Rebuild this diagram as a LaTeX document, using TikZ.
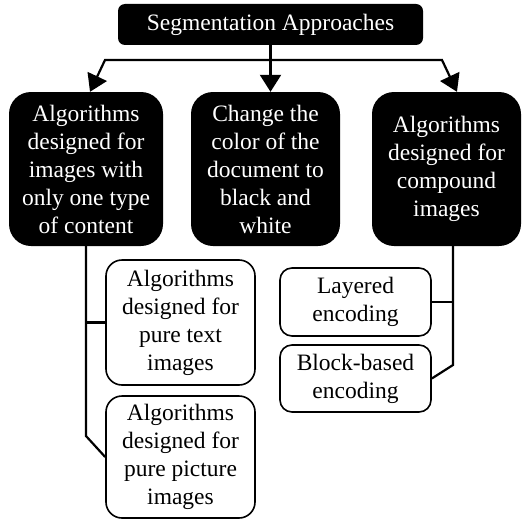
\documentclass[tikz,border=0pt]{standalone}
\usepackage{fontspec}
\setmainfont{LiberationSerif}[Extension=.ttf, UprightFont=*-Regular, BoldFont=*-Bold]
\usetikzlibrary{arrows.meta}

\tikzset{
  darkbox/.style={fill=black, text=white, rounded corners=22pt, align=center, inner sep=0pt},
  lightbox/.style={draw=black, line width=1.6pt, fill=white, rounded corners=16pt, align=center, inner sep=0pt},
  conn/.style={black, line width=2.2pt},
  arrow/.style={conn, -{Triangle[length=17pt,width=21pt]}}
}

\begin{document}
\begin{tikzpicture}[x=1pt, y=-1pt, font=\fontsize{23.5}{28}\selectfont]
  \useasboundingbox (0,0) rectangle (524,519);
  \node[darkbox, rounded corners=7pt, minimum width=305pt, minimum height=41pt] (top) at (270.5,24.5) {Segmentation Approaches};
  \node[darkbox, minimum width=154pt, minimum height=154pt] (one) at (86,169) {Algorithms\\designed for\\images with\\only one type\\of content};
  \node[darkbox, minimum width=149pt, minimum height=154pt] (two) at (265.5,169) {Change the\\color of the\\document to\\black and\\white};
  \node[darkbox, minimum width=149pt, minimum height=154pt] (three) at (446.5,169) {Algorithms\\designed for\\compound\\images};
  \node[lightbox, minimum width=149pt, minimum height=125pt] (txt) at (180.5,322.5) {Algorithms\\designed for\\pure text\\images};
  \node[lightbox, minimum width=149pt, minimum height=122pt] (pic) at (180.5,457) {Algorithms\\designed for\\pure picture\\images};
  \node[lightbox, rounded corners=12pt, minimum width=151pt, minimum height=68pt] (layered) at (355.5,302) {Layered\\encoding};
  \node[lightbox, rounded corners=12pt, minimum width=151pt, minimum height=67pt] (block) at (355.5,378.5) {Block-based\\encoding};
  % top level arrows
  \coordinate (lbend) at (105,60);
  \coordinate (rbend) at (442,60);
  \draw[arrow] (top.south |- lbend) -- (lbend) -- ([xshift=4pt]one.north);
  \draw[arrow] (top.south |- rbend) -- (rbend) -- ([xshift=10.5pt]three.north);
  \draw[arrow] (top.south) -- (top.south |- two.north);
  % sub branches
  \coordinate (lknee) at (86,436);
  \coordinate (rknee) at (453,365);
  \draw[conn] (one.south) -- (lknee) -- (pic.west);
  \draw[conn] (one.south |- txt.west) -- (txt.west);
  \draw[conn] (three.south -| rknee) -- (rknee) -- (block.east);
  \draw[conn] (layered.east -| rknee) -- (layered.east);
\end{tikzpicture}
\end{document}
